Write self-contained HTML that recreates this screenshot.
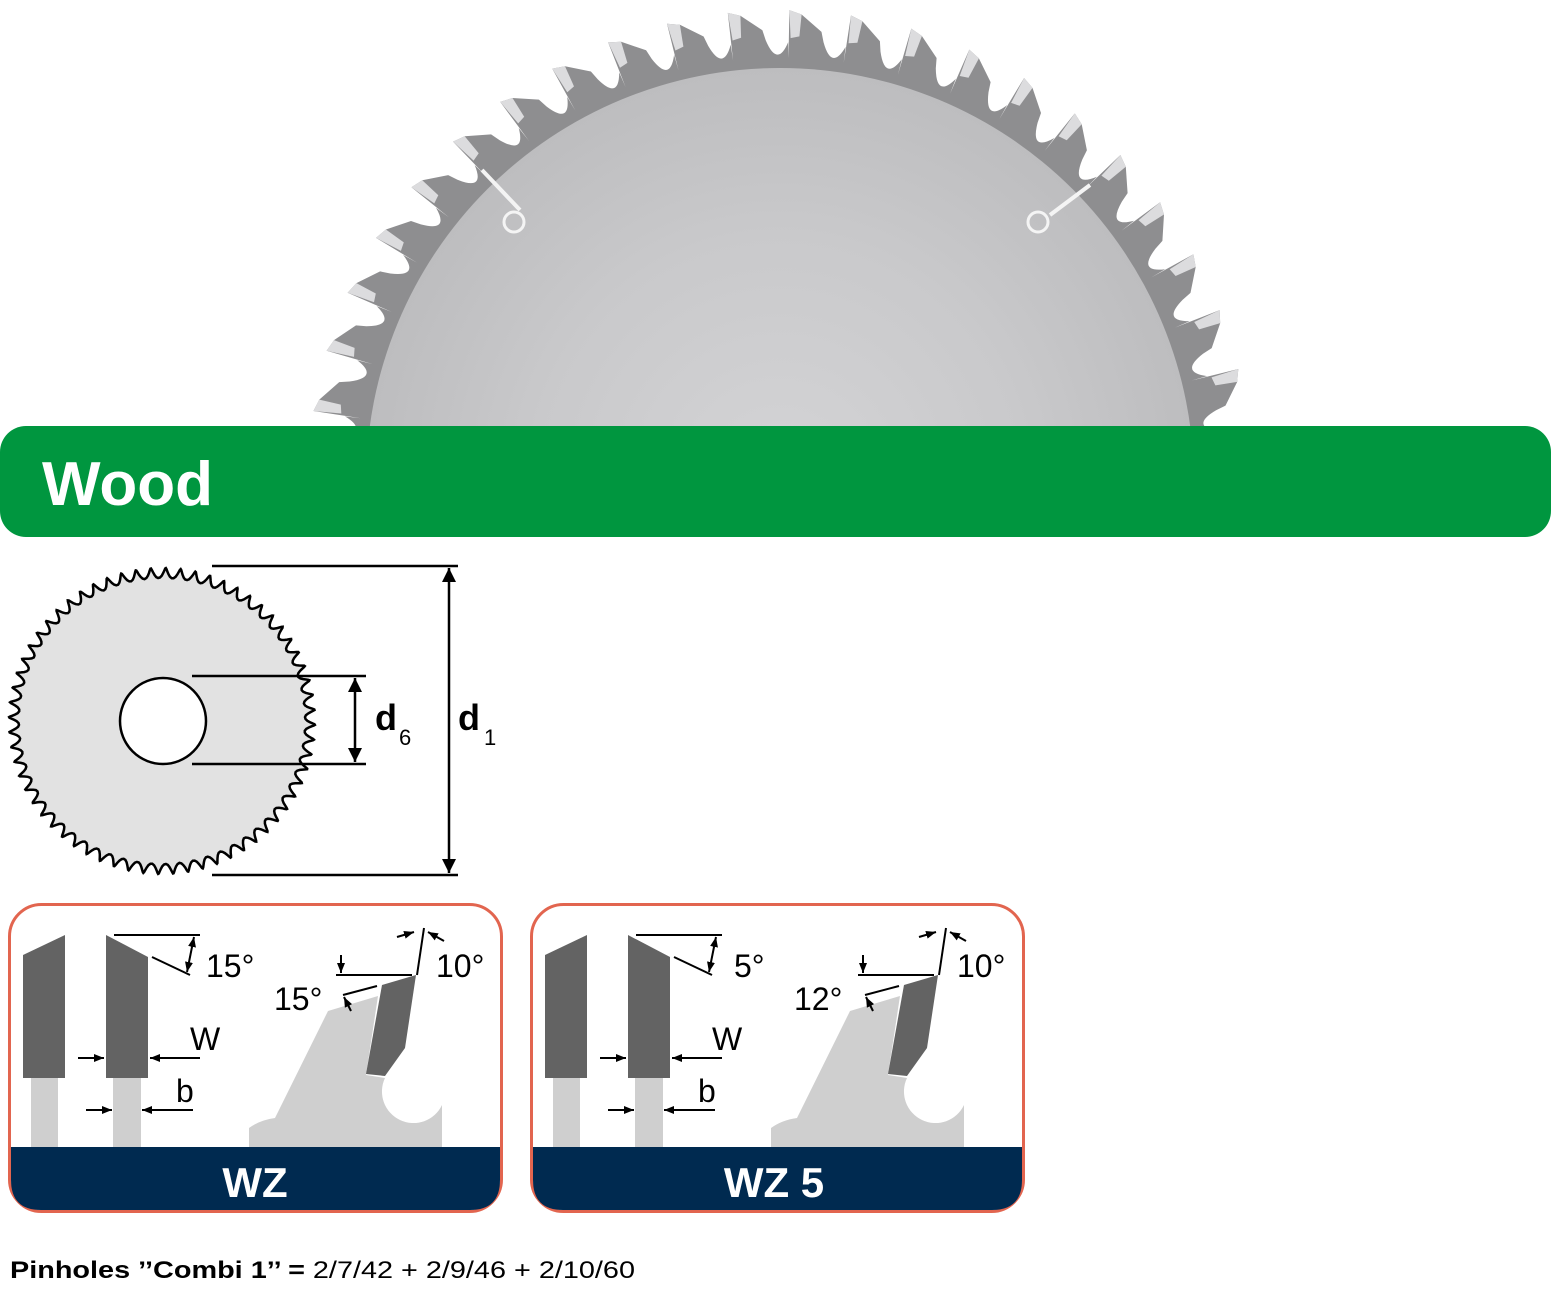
<!DOCTYPE html>
<html><head><meta charset="utf-8"><style>
html,body{margin:0;padding:0;background:#fff;}
svg{display:block;}
text{font-family:"Liberation Sans",sans-serif;}
</style></head><body>
<svg id="s" width="1560" height="1300" viewBox="0 0 1560 1300" xmlns="http://www.w3.org/2000/svg">
<defs>
<radialGradient id="bg" cx="780" cy="482" r="414" gradientUnits="userSpaceOnUse">
<stop offset="0" stop-color="#d4d4d6"/><stop offset="0.6" stop-color="#c9c9cb"/><stop offset="1" stop-color="#bdbdbf"/>
</radialGradient>
<clipPath id="topclip"><rect x="0" y="0" width="1560" height="430"/></clipPath>
<marker id="ah" viewBox="0 0 10 10" refX="10" refY="5" markerWidth="10" markerHeight="10" orient="auto-start-reverse" markerUnits="userSpaceOnUse"><path d="M0,1 L10,5 L0,9 z" fill="#000"/></marker>
<marker id="ab" viewBox="0 0 10 10" refX="10" refY="5" markerWidth="14" markerHeight="14" orient="auto-start-reverse" markerUnits="userSpaceOnUse"><path d="M0,0 L10,5 L0,10 z" fill="#000"/></marker>
</defs>
<g clip-path="url(#topclip)">
<path id="saw" fill="#8e8e90"/>
<g id="tips" fill="#dcdcde"></g>
<circle cx="780" cy="482" r="414" fill="url(#bg)"/>
<path d="M482,170 L520,210 M1090,185 L1050,215" stroke="#f4f4f4" stroke-width="4" fill="none"/>
<circle cx="514" cy="222" r="10" fill="none" stroke="#f4f4f4" stroke-width="3"/>
<circle cx="1038" cy="222" r="10" fill="none" stroke="#f4f4f4" stroke-width="3"/>
</g>
<rect x="0" y="426" width="1551" height="111" rx="26" fill="#00963f"/>
<text x="42" y="505" font-size="62" font-weight="bold" fill="#fff">Wood</text>

<path id="gear" fill="#e2e2e2" stroke="#000" stroke-width="2.5"/>
<circle cx="163" cy="721" r="43" fill="#fff" stroke="#000" stroke-width="2.5"/>
<g stroke="#000" stroke-width="2.5" fill="none">
<line x1="192" y1="676" x2="366" y2="676"/><line x1="192" y1="764" x2="366" y2="764"/>
<line x1="212" y1="566" x2="458" y2="566"/><line x1="212" y1="875" x2="458" y2="875"/>
<line x1="355" y1="678" x2="355" y2="762" marker-start="url(#ab)" marker-end="url(#ab)"/>
<line x1="449" y1="568" x2="449" y2="873" marker-start="url(#ab)" marker-end="url(#ab)"/>
</g>
<text x="375" y="730" font-size="36" font-weight="bold">d</text><text x="399" y="745" font-size="22">6</text>
<text x="458" y="730" font-size="36" font-weight="bold">d</text><text x="484" y="745" font-size="22">1</text>

<g id="box1">
<rect x="9.5" y="904.5" width="492" height="307" rx="32" fill="#fff" stroke="#e2654f" stroke-width="3"/>
<path d="M11,1147 H500 V1180 Q500,1210 470,1210 H41 Q11,1210 11,1180 Z" fill="#002a50"/>
<rect x="31" y="1078" width="27" height="69" fill="#cfcfcf"/>
<rect x="113" y="1078" width="28" height="69" fill="#cfcfcf"/>
<path d="M23,955 L65,935 L65,1078 L23,1078 Z" fill="#636363"/>
<path d="M106,935 L148,957 L148,1078 L106,1078 Z" fill="#636363"/>
<path d="M249,1147 L249,1128 Q260,1120 275,1118 L328,1011 L378,996 L366,1075 L385,1078 A28,28 0 0 0 442,1105 L442,1147 Z" fill="#cfcfcf"/>
<path d="M382,985 L416,975 L405,1048 L385,1076 L366,1074 Z" fill="#636363"/>
<g stroke="#000" stroke-width="2" fill="none">
<line x1="114" y1="935" x2="200" y2="935"/>
<line x1="152" y1="957" x2="190" y2="975"/>
<line x1="194" y1="937" x2="187" y2="972" marker-start="url(#ah)" marker-end="url(#ah)"/>
<line x1="78" y1="1058" x2="104" y2="1058" marker-end="url(#ah)"/>
<line x1="200" y1="1058" x2="150" y2="1058" marker-end="url(#ah)"/>
<line x1="86" y1="1110" x2="112" y2="1110" marker-end="url(#ah)"/>
<line x1="193" y1="1110" x2="142" y2="1110" marker-end="url(#ah)"/>
<line x1="336" y1="975" x2="412" y2="975"/>
<line x1="341" y1="955" x2="341" y2="973" marker-end="url(#ah)"/>
<line x1="343" y1="995" x2="377" y2="986"/>
<line x1="351" y1="1011" x2="344" y2="997" marker-end="url(#ah)"/>
<line x1="417" y1="975" x2="424" y2="928"/>
<line x1="397" y1="937" x2="414" y2="932" marker-end="url(#ah)"/>
<line x1="444" y1="941" x2="428" y2="932" marker-end="url(#ah)"/>
</g>
<text x="190" y="1050" font-size="32">W</text>
<text x="176" y="1102" font-size="32">b</text>
</g>
<text x="206" y="977" font-size="32">15°</text>
<text x="274" y="1010" font-size="32">15°</text>
<text x="436" y="977" font-size="32">10°</text>
<text x="255" y="1197" font-size="42" font-weight="bold" fill="#fff" text-anchor="middle">WZ</text>
<use href="#box1" transform="translate(522,0)"/>
<text x="734" y="977" font-size="32">5°</text>
<text x="794" y="1010" font-size="32">12°</text>
<text x="957" y="977" font-size="32">10°</text>
<text x="774" y="1197" font-size="42" font-weight="bold" fill="#fff" text-anchor="middle">WZ 5</text>

<text x="10" y="1278" font-size="24" textLength="625" lengthAdjust="spacingAndGlyphs"><tspan font-weight="bold">Pinholes ’’Combi 1’’ =</tspan> 2/7/42 + 2/9/46 + 2/10/60</text>
</svg>
<script>
(function(){
var cx=780,cy=482,N=48,s=2*Math.PI/N,d="",tips="";
function P(r,a){return (cx+r*Math.sin(a)).toFixed(1)+","+(cy-r*Math.cos(a)).toFixed(1);}
for(var i=0;i<N;i++){
 var a=i*s+0.02;
 d+=(i?"L":"M")+P(424,a)+" L"+P(472,a)+" L"+P(468,a+0.2*s)+" L"+P(452,a+0.55*s)+" L"+P(442,a+0.6*s)+" Q"+P(414,a+0.8*s)+" "+P(440,a+s*0.99)+" ";
 tips+='<path d="M'+P(472,a)+" L"+P(468,a+0.2*s)+" L"+P(446,a+0.18*s)+" L"+P(444,a+0.03*s)+'Z"/>';
}
document.getElementById("saw").setAttribute("d",d+"Z");
document.getElementById("tips").innerHTML=tips;
var gx=162,gy=721,M=64,g="",k;
for(k=0;k<=720;k++){var t=k/720*2*Math.PI;var r=148+5*Math.sin(t*M);var a2=t+0.09*Math.cos(t*M)/M*6;
 g+=(k?"L":"M")+(gx+r*Math.cos(a2)).toFixed(1)+","+(gy+r*Math.sin(a2)).toFixed(1);}
document.getElementById("gear").setAttribute("d",g+"Z");
})();
</script>
</body></html>
